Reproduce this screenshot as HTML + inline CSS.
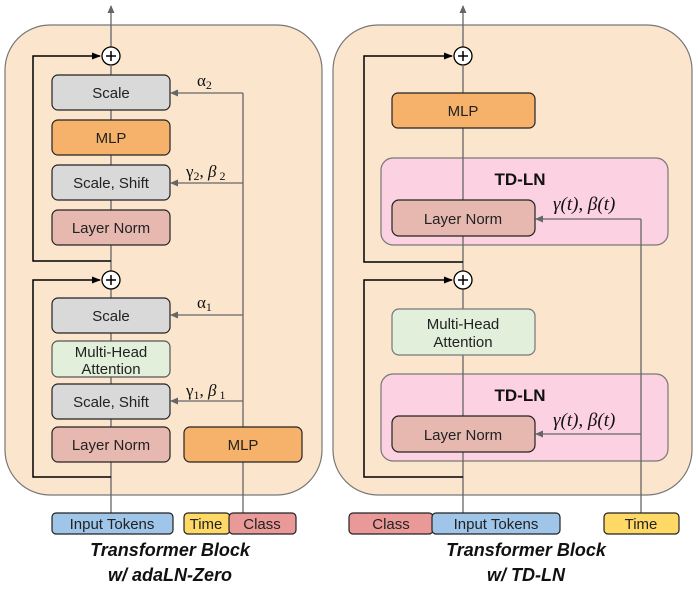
<!DOCTYPE html>
<html><head><meta charset="utf-8"><style>body{margin:0;background:#fff}svg{display:block}text{font-family:"Liberation Sans",sans-serif}text.m{font-family:"Liberation Serif",serif}</style></head><body>
<svg width="698" height="595" viewBox="0 0 698 595" xmlns="http://www.w3.org/2000/svg">
<defs>
<marker id="ag" markerWidth="8" markerHeight="8" refX="7" refY="4" orient="auto" markerUnits="userSpaceOnUse"><path d="M0,0.5 L8,4 L0,7.5z" fill="#666"/></marker>
<marker id="ab" markerWidth="9" markerHeight="8" refX="8" refY="4" orient="auto" markerUnits="userSpaceOnUse"><path d="M0,0.5 L9,4 L0,7.5z" fill="#000"/></marker>
</defs>
<rect x="5" y="25" width="317" height="470" rx="45" fill="#fce5cd" stroke="#777" stroke-width="1.2"/>
<rect x="333" y="25" width="359" height="470" rx="45" fill="#fce5cd" stroke="#777" stroke-width="1.2"/>
<rect x="381" y="158" width="287" height="87" rx="12" fill="#fcd1e1" stroke="#777" stroke-width="1.2"/>
<rect x="381" y="374" width="287" height="87" rx="12" fill="#fcd1e1" stroke="#777" stroke-width="1.2"/>

<g stroke="#666" stroke-width="1.3" fill="none">
<line x1="111" y1="513" x2="111" y2="66"/>
<line x1="111" y1="47" x2="111" y2="6" marker-end="url(#ag)"/>
<line x1="243" y1="513" x2="243" y2="93"/>
<line x1="243" y1="93" x2="171" y2="93" marker-end="url(#ag)"/>
<line x1="243" y1="183" x2="171" y2="183" marker-end="url(#ag)"/>
<line x1="243" y1="315" x2="171" y2="315" marker-end="url(#ag)"/>
<line x1="243" y1="401" x2="171" y2="401" marker-end="url(#ag)"/>
<line x1="463" y1="513" x2="463" y2="66"/>
<line x1="463" y1="47" x2="463" y2="6" marker-end="url(#ag)"/>
<line x1="641" y1="513" x2="641" y2="219"/>
<line x1="641" y1="219" x2="536" y2="219" marker-end="url(#ag)"/>
<line x1="641" y1="434" x2="536" y2="434" marker-end="url(#ag)"/>
</g>
<g stroke="#000" stroke-width="1.5" fill="none">
<polyline points="111,261 33,261 33,56 100,56" marker-end="url(#ab)"/>
<polyline points="111,477 33,477 33,280 100,280" marker-end="url(#ab)"/>
<polyline points="463,262 364,262 364,56 452,56" marker-end="url(#ab)"/>
<polyline points="463,477 364,477 364,280 452,280" marker-end="url(#ab)"/>
</g>
<g stroke="#000" stroke-width="1.3" fill="#fff">
<circle cx="111" cy="56" r="9"/><circle cx="111" cy="280" r="9"/>
<circle cx="463" cy="56" r="9"/><circle cx="463" cy="280" r="9"/>
</g>
<g stroke="#000" stroke-width="1.5">
<path d="M106,56h10M111,51v10M106,280h10M111,275v10M458,56h10M463,51v10M458,280h10M463,275v10"/>
</g>

<g stroke="#222" stroke-width="1.2">
<rect x="52" y="75" width="118" height="35" rx="6" fill="#d9d9d9"/>
<rect x="52" y="120" width="118" height="35" rx="6" fill="#f6b26b"/>
<rect x="52" y="165" width="118" height="35" rx="6" fill="#d9d9d9"/>
<rect x="52" y="210" width="118" height="35" rx="6" fill="#e6b8af"/>
<rect x="52" y="298" width="118" height="35" rx="6" fill="#d9d9d9"/>
<rect x="52" y="341" width="118" height="36" rx="6" fill="#e2efda" stroke="#555"/>
<rect x="52" y="384" width="118" height="35" rx="6" fill="#d9d9d9"/>
<rect x="52" y="427" width="118" height="35" rx="6" fill="#e6b8af"/>
<rect x="184" y="427" width="118" height="35" rx="6" fill="#f6b26b"/>
<rect x="52" y="513" width="121" height="21" rx="4" fill="#9fc5e8"/>
<rect x="184" y="513" width="46" height="21" rx="4" fill="#ffd966"/>
<rect x="229" y="513" width="67" height="21" rx="4" fill="#ea9999"/>
</g>
<g stroke="#222" stroke-width="1.2">
<rect x="392" y="93" width="143" height="35" rx="6" fill="#f6b26b"/>
<rect x="392" y="200" width="143" height="36" rx="7" fill="#e6b8af"/>
<rect x="392" y="309" width="143" height="46" rx="7" fill="#e2efda" stroke="#777"/>
<rect x="392" y="416" width="143" height="36" rx="7" fill="#e6b8af"/>
<rect x="349" y="513" width="84" height="21" rx="4" fill="#ea9999"/>
<rect x="432" y="513" width="128" height="21" rx="4" fill="#9fc5e8"/>
<rect x="604" y="513" width="75" height="21" rx="4" fill="#ffd966"/>
</g>

<g font-size="15" fill="#222" text-anchor="middle">
<text x="111" y="98">Scale</text>
<text x="111" y="143">MLP</text>
<text x="111" y="188">Scale, Shift</text>
<text x="111" y="233">Layer Norm</text>
<text x="111" y="321">Scale</text>
<text x="111" y="357">Multi-Head</text>
<text x="111" y="374">Attention</text>
<text x="111" y="407">Scale, Shift</text>
<text x="111" y="450">Layer Norm</text>
<text x="243" y="450">MLP</text>
<text x="112" y="529">Input Tokens</text>
<text x="206" y="529">Time</text>
<text x="262" y="529">Class</text>
<text x="463" y="116">MLP</text>
<text x="463" y="224">Layer Norm</text>
<text x="463" y="329">Multi-Head</text>
<text x="463" y="347">Attention</text>
<text x="463" y="440">Layer Norm</text>
<text x="391" y="529">Class</text>
<text x="496" y="529">Input Tokens</text>
<text x="641" y="529">Time</text>
</g>
<g font-size="17" font-weight="bold" fill="#111" text-anchor="middle">
<text x="520" y="185">TD-LN</text>
<text x="520" y="401">TD-LN</text>
</g>
<g font-size="17" fill="#111">
<text class="m" x="197" y="86">α<tspan font-size="12" dy="3">2</tspan></text>
<text class="m" x="186" y="177">γ<tspan font-size="12" dy="3">2</tspan><tspan dy="-3">, </tspan><tspan font-style="italic">β</tspan><tspan font-size="12" dy="3"> 2</tspan></text>
<text class="m" x="197" y="308">α<tspan font-size="12" dy="3">1</tspan></text>
<text class="m" x="186" y="396">γ<tspan font-size="12" dy="3">1</tspan><tspan dy="-3">, </tspan><tspan font-style="italic">β</tspan><tspan font-size="12" dy="3"> 1</tspan></text>
<text class="m" x="553" y="210" font-size="19" font-style="italic">γ(t), β(t)</text>
<text class="m" x="553" y="426" font-size="19" font-style="italic">γ(t), β(t)</text>
</g>
<g font-size="18" font-weight="bold" font-style="italic" fill="#111" text-anchor="middle">
<text x="170" y="556">Transformer Block</text>
<text x="170" y="581">w/ adaLN-Zero</text>
<text x="526" y="556">Transformer Block</text>
<text x="526" y="581">w/ TD-LN</text>
</g>
</svg>
</body></html>
